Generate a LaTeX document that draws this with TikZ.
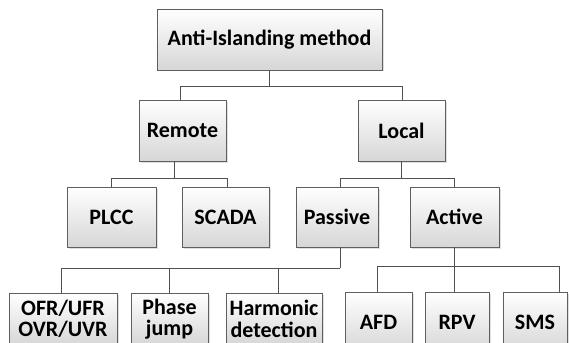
\documentclass[tikz,border=0pt]{standalone}
\usepackage{fontspec}
\setmainfont{Carlito}
\usetikzlibrary{shadows}
\definecolor{boxline}{RGB}{95,95,95}
\definecolor{wire}{RGB}{80,80,80}
\tikzset{
  treebox/.style={draw=boxline, line width=0.9pt, top color=white, bottom color=black!16,
    minimum height=#1, inner sep=0pt, align=center,
    font=\fontsize{22}{21.5}\selectfont\bfseries,
    drop shadow={opacity=0.25, shadow xshift=1.5pt, shadow yshift=-1.5pt}},
  treebox/.default=61pt,
  wireline/.style={draw=wire, line width=0.9pt}
}
\begin{document}
\begin{tikzpicture}[x=1pt,y=-1pt]
\useasboundingbox (0,0) rectangle (569,342);
\node[treebox, minimum width=225pt] (root) at (269.5,39.5) {Anti-Islanding method};
\node[treebox, minimum width=87pt] (remote) at (182.5,130.5) {Remote};
\node[treebox, minimum width=87pt] (local) at (401.5,130.5) {Local};
\node[treebox=60pt, minimum width=89pt] (plcc) at (111.5,217) {PLCC};
\node[treebox=60pt, minimum width=87pt] (scada) at (225.5,217) {SCADA};
\node[treebox=60pt, minimum width=82pt] (passive) at (337,217) {Passive};
\node[treebox=60pt, minimum width=89pt] (active) at (454.5,217) {Active};
\node[treebox=52pt, minimum width=108pt] (ofr) at (63,319) {OFR/UFR\\OVR/UVR};
\node[treebox=52pt, minimum width=77pt] (phase) at (169.5,319) {Phase\\jump};
\node[treebox=52pt, minimum width=96pt] (harm) at (274,319) {Harmonic\\detection};
\node[treebox=60pt, minimum width=67pt] (afd) at (378.5,322) {AFD};
\node[treebox=60pt, minimum width=64pt] (rpv) at (457,322) {RPV};
\node[treebox=60pt, minimum width=64pt] (sms) at (535,322) {SMS};
% connectors
\draw[wireline] (root.south) -- ++(0,16) coordinate (j0);
\draw[wireline] ([xshift=-2pt]remote.north) |- (j0) -| ([xshift=0.5pt]local.north);
\draw[wireline] ([xshift=-8.5pt]remote.south) -- ++(0,17) coordinate (j1);
\draw[wireline] (plcc.north) |- (j1) -| ([xshift=1.5pt]scada.north);
\draw[wireline] (local.south) -- ++(0,17) coordinate (j2);
\draw[wireline] ([xshift=3pt]passive.north) |- (j2) -| (active.north);
\draw[wireline] ([xshift=3pt]passive.south) -- ++(0,21) coordinate (j3);
\draw[wireline] ([xshift=-2pt]ofr.north) |- (j3);
\draw[wireline] (phase.north) -- (phase.north |- j3);
\draw[wireline] ([xshift=4pt]harm.north) -- ([xshift=4pt]harm.north |- j3);
\draw[wireline] (active.south) -- ++(0,19) coordinate (j4);
\draw[wireline] ([xshift=-1.5pt]afd.north) |- (j4) -| ([xshift=24pt]sms.north);
\draw[wireline] (j4) -- (j4 |- rpv.north);
\end{tikzpicture}
\end{document}
